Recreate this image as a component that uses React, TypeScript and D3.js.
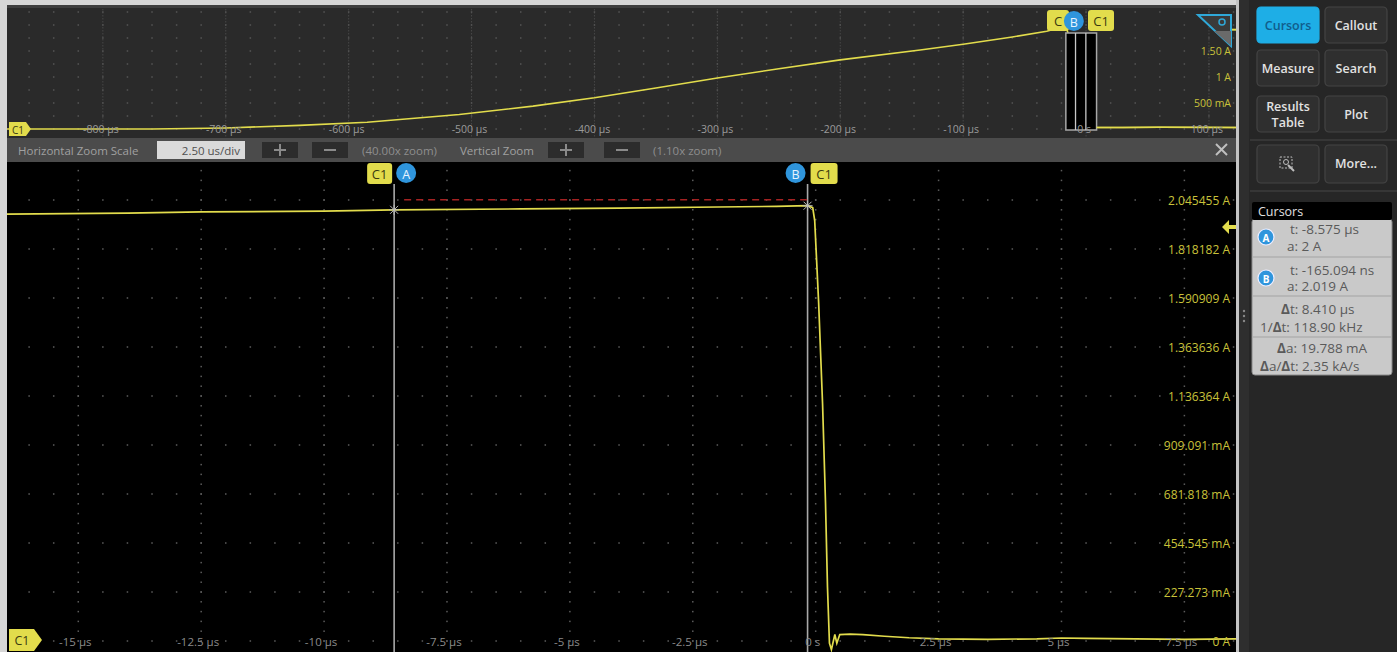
import React from "react";
import * as d3 from "d3";

const W = 1397;
const H = 652;
const FONT = "'Open Sans', 'Noto Sans', 'DejaVu Sans', sans-serif";

// ---------- main (zoomed) waveform ----------
const mainTimeUs = [-16.45, -14, -12.5, -10, -8.575, -6, -4, -2, -0.8, -0.165, -0.06, -0.02, 0.06, 0.14, 0.2, 0.24, 0.28, 0.32, 0.39, 0.43, 0.49, 0.7, 0.96, 1.4, 1.9, 2.5, 3.5, 4.5, 5.0, 5.5, 6.5, 7.5, 8.55];
const mainCurrentA = [1.98, 1.985, 1.99, 1.994, 2.0, 2.004, 2.008, 2.013, 2.016, 2.019, 2.01, 1.95, 1.57, 1.1, 0.64, 0.25, -0.01, -0.04, 0.03, -0.01, 0.03, 0.032, 0.03, 0.022, 0.015, 0.01, 0.008, 0.01, 0.014, 0.012, 0.01, 0.008, 0.01];

// ---------- overview waveform ----------
const overviewTimeUs = [-878, -760, -700, -640, -585, -510, -450, -400, -350, -300, -250, -200, -135, -100, -60, -32, -16.45, 8.55, 30, 60, 122];
const overviewCurrentA = [0.0, 0.0, 0.02, 0.07, 0.13, 0.28, 0.44, 0.6, 0.79, 0.98, 1.16, 1.33, 1.52, 1.63, 1.77, 1.88, 1.98, 0.03, 0.03, 0.035, 0.03];

// ---------- ticks ----------
const mainXTicksUs = [-15, -12.5, -10, -7.5, -5, -2.5, 0, 2.5, 5, 7.5];
const mainXTickLabels = ["-15 µs", "-12.5 µs", "-10 µs", "-7.5 µs", "-5 µs", "-2.5 µs", "0 s", "2.5 µs", "5 µs", "7.5 µs"];
const mainYDivA = 0.2272727;
const mainYTickDivs = [0, 1, 2, 3, 4, 5, 6, 7, 8, 9];
const mainYTickLabels = ["0 A", "227.273 mA", "454.545 mA", "681.818 mA", "909.091 mA", "1.136364 A", "1.363636 A", "1.590909 A", "1.818182 A", "2.045455 A"];

const ovXTicksUs = [-800, -700, -600, -500, -400, -300, -200, -100, 0, 100];
const ovXTickLabels = ["-800 µs", "-700 µs", "-600 µs", "-500 µs", "-400 µs", "-300 µs", "-200 µs", "-100 µs", "0 s", "100 µs"];
const ovYTicksA = [0.5, 1, 1.5];
const ovYTickLabels = ["500 mA", "1 A", "1.50 A"];

// ---------- cursors ----------
const cursorTimesUs = [-8.575, -0.165];
const cursorCurrentA = [2.0, 2.019];
const cursorNames = ["A", "B"];
const zoomWindowUs = [-16.45, 8.55];
const triggerLevelA = 1.92;

// ---------- side panel ----------
const buttonLabels = ["Cursors", "Callout", "Measure", "Search", "Results|Table", "Plot", "", "More..."];
const readoutA = ["t: -8.575 µs", "a: 2 A"];
const readoutB = ["t: -165.094 ns", "a: 2.019 A"];
const readoutDt = ["8.410 µs", "118.90 kHz"];
const readoutDa = ["19.788 mA", "2.35 kA/s"];

const YELLOW = "#e2dc4c";
const YLABEL = "#c9c23a";
const BLUE = "#2f95dc";

function CLabel({ x, y, w, text }: { x: number; y: number; w: number; text: string }) {
  return (
    <g>
      <rect x={x} y={y} width={w} height={21} rx={3} fill={YELLOW} />
      <text x={x + w / 2} y={y + 11} textAnchor="middle" dominantBaseline="central" fontSize={13} fill="#3a3a10" fontFamily={FONT}>{text}</text>
    </g>
  );
}

function CircleLabel({ cx, cy, text }: { cx: number; cy: number; text: string }) {
  return (
    <g>
      <circle cx={cx} cy={cy} r={10} fill={BLUE} />
      <text x={cx} y={cy + 1} textAnchor="middle" dominantBaseline="central" fontSize={12.5} fill="#e8f4ff" fontFamily={FONT}>{text}</text>
    </g>
  );
}

export default function App() {
  const xMain = d3.scaleLinear().domain([-16.45, 8.55]).range([7, 1236]);
  const yMain = d3.scaleLinear().domain([0, 9 * mainYDivA]).range([641, 200]);
  const xOv = d3.scaleLinear().domain([-878, 122]).range([7, 1236]);
  const yOv = d3.scaleLinear().domain([0, 1.5]).range([129, 51]);

  const mainLine = d3.line<number>().x((_, i) => xMain(mainTimeUs[i])).y((d) => yMain(d));
  const ovLine = d3.line<number>().x((_, i) => xOv(overviewTimeUs[i])).y((d) => yOv(d));
  const ovTailLine = d3.line<number>().x((_, i) => xOv(overviewTimeUs[17 + i])).y((d) => yOv(d));

  const mainTop = 162, mainBot = 650;
  const vMin = yMain.invert(mainBot), vMax = yMain.invert(mainTop);
  const vDots: number[] = d3.range(Math.ceil(vMin / (mainYDivA / 5)), Math.floor(vMax / (mainYDivA / 5)) + 1).map((k) => k * (mainYDivA / 5));
  const hDots: number[] = d3.range(-32, 18).map((k) => k * 0.5).filter((t) => xMain(t) > 8 && xMain(t) < 1235);

  const ovRows = d3.range(0, 10).map((k) => k * 0.25);
  const ovRowDots = d3.range(-43, 7).map((k) => k * 20).filter((t) => xOv(t) > 8 && xOv(t) < 1235);

  const xA = xMain(cursorTimesUs[0]);
  const xB = xMain(cursorTimesUs[1]);
  const zx0 = xOv(zoomWindowUs[0]);
  const zx1 = xOv(zoomWindowUs[1]);
  const yT = yMain(triggerLevelA);

  const btnPos = [
    [1257, 7], [1325, 7], [1257, 50], [1325, 50], [1257, 96], [1325, 96], [1257, 145], [1325, 145],
  ];

  return (
    <svg width={W} height={H} style={{ position: "fixed", left: 0, top: 0, display: "block" }} fontFamily={FONT}>
      <rect x={0} y={0} width={W} height={H} fill="#d6d6d6" />
      {/* ---------- overview panel ---------- */}
      <rect x={7} y={5} width={1229} height={133} fill="#2a2a2a" />
      <rect x={7} y={5} width={1229} height={3} fill="#3e3e3e" />
      {ovXTicksUs.map((t) => (
        <line key={"ovv" + t} x1={xOv(t)} x2={xOv(t)} y1={9} y2={137} stroke="#474747" strokeWidth={1} strokeDasharray="1.5,1.5" />
      ))}
      {ovRows.map((v) => (
        <g key={"ovr" + v}>
          {ovRowDots.map((t) => (
            <rect key={t} x={xOv(t) - 0.75} y={yOv(v) - 0.75} width={1.5} height={1.5} fill="#555" />
          ))}
        </g>
      ))}
      <path d={ovLine(overviewCurrentA) || ""} fill="none" stroke={YELLOW} strokeWidth={1.6} />
      <rect x={zx0} y={33} width={zx1 - zx0} height={97} fill="#000" stroke="#a8a8a8" strokeWidth={1.5} />
      {cursorTimesUs.map((t, i) => (
        <line key={"ovc" + i} x1={xOv(t)} x2={xOv(t)} y1={33} y2={130} stroke="#c8c8c8" strokeWidth={1.3} />
      ))}
      <path d={ovTailLine(overviewCurrentA.slice(17)) || ""} fill="none" stroke={YELLOW} strokeWidth={1.6} />
      {ovXTicksUs.map((t, i) => (
        <text key={"ovx" + t} x={xOv(t) - 2} y={129} textAnchor="middle" dominantBaseline="central" fontSize={10.5} fill="#9a9a9a">{ovXTickLabels[i]}</text>
      ))}
      {ovYTicksA.map((v, i) => (
        <text key={"ovy" + v} x={1231} y={yOv(v)} textAnchor="end" dominantBaseline="central" fontSize={10.5} fill={YLABEL}>{ovYTickLabels[i]}</text>
      ))}
      <path d="M9,122 L26,122 L31,129 L26,136 L9,136 Z" fill={YELLOW} />
      <text x={18} y={129.5} textAnchor="middle" dominantBaseline="central" fontSize={10} fill="#3a3a10">C1</text>
      <CLabel x={1047} y={10} w={22} text="C" />
      <CircleLabel cx={xOv(cursorTimesUs[1]) - 12} cy={21} text="B" />
      <CLabel x={1088} y={10} w={26} text="C1" />
      {/* trigger icon */}
      <polygon points="1198,15 1231,15 1231,46" fill="#3a3a3a" stroke="#2fa8d8" strokeWidth={2} />
      <polygon points="1214,31 1231,31 1231,46" fill="#6a6a6a" />
      <circle cx={1222} cy={22} r={3} fill="none" stroke="#2fa8d8" strokeWidth={1.5} />
      <line x1={1232} x2={1236} y1={yOv(1.91)} y2={yOv(1.91)} stroke={YELLOW} strokeWidth={2} />

      {/* ---------- zoom bar ---------- */}
      <rect x={7} y={138} width={1229} height={24} fill="#4b4b4b" />
      <text x={18} y={150} dominantBaseline="central" fontSize={11.5} fill="#a0a0a0">Horizontal Zoom Scale</text>
      <rect x={157} y={141} width={88} height={18} fill="#dadada" />
      <text x={240} y={150} textAnchor="end" dominantBaseline="central" fontSize={11.5} fill="#505050">2.50 us/div</text>
      {[262, 312, 548, 604].map((bx, i) => (
        <g key={"zb" + bx}>
          <rect x={bx} y={142} width={36} height={16} fill="#2c2c2c" />
          <line x1={bx + 12} x2={bx + 24} y1={150} y2={150} stroke="#8a8a8a" strokeWidth={2} />
          {i % 2 === 0 && <line x1={bx + 18} x2={bx + 18} y1={144} y2={156} stroke="#8a8a8a" strokeWidth={2} />}
        </g>
      ))}
      <text x={362} y={150} dominantBaseline="central" fontSize={11.5} fill="#8e8e8e">(40.00x zoom)</text>
      <text x={460} y={150} dominantBaseline="central" fontSize={11.5} fill="#a0a0a0">Vertical Zoom</text>
      <text x={653} y={150} dominantBaseline="central" fontSize={11.5} fill="#8e8e8e">(1.10x zoom)</text>
      <g stroke="#c0c0c0" strokeWidth={2}>
        <line x1={1216} x2={1227} y1={144} y2={155} />
        <line x1={1227} x2={1216} y1={144} y2={155} />
      </g>

      {/* ---------- main plot ---------- */}
      <rect x={7} y={mainTop} width={1229} height={mainBot - mainTop + 2} fill="#000" />
      {mainXTicksUs.map((t) => (
        <g key={"mv" + t}>
          {vDots.map((v) => (
            <rect key={v} x={xMain(t) - 0.75} y={yMain(v) - 0.75} width={1.5} height={1.5} fill="#5c5c5c" />
          ))}
        </g>
      ))}
      {mainYTickDivs.map((k) => (
        <g key={"mh" + k}>
          {hDots.map((t) => (
            <rect key={t} x={xMain(t) - 0.75} y={yMain(k * mainYDivA) - 0.75} width={1.5} height={1.5} fill="#5c5c5c" />
          ))}
        </g>
      ))}
      {[xA, xB].map((x, i) => (
        <line key={"cl" + i} x1={x} x2={x} y1={184} y2={mainBot + 2} stroke="#a9a9a9" strokeWidth={1.6} />
      ))}
      <line x1={xA + 10} x2={xB} y1={yMain(cursorCurrentA[1]) - 6} y2={yMain(cursorCurrentA[1]) - 6} stroke="#a42222" strokeWidth={1.6} strokeDasharray="7,5" />
      <path d={mainLine(mainCurrentA) || ""} fill="none" stroke={YELLOW} strokeWidth={1.7} />
      {cursorTimesUs.map((t, i) => {
        const cx = xMain(t), cy = yMain(cursorCurrentA[i]);
        return (
          <g key={"cx" + i} stroke="#bbbbbb" strokeWidth={1}>
            <line x1={cx - 5} x2={cx + 5} y1={cy} y2={cy} />
            <line x1={cx} x2={cx} y1={cy - 5} y2={cy + 5} />
            <line x1={cx - 4} x2={cx + 4} y1={cy - 4} y2={cy + 4} />
            <line x1={cx - 4} x2={cx + 4} y1={cy + 4} y2={cy - 4} />
          </g>
        );
      })}
      <CLabel x={xA - 27} y={163} w={25} text="C1" />
      <CircleLabel cx={xA + 12} cy={173} text={cursorNames[0]} />
      <CircleLabel cx={xB - 12} cy={173} text={cursorNames[1]} />
      <CLabel x={xB + 3} y={163} w={27} text="C1" />
      {mainXTicksUs.map((t, i) => (
        <text key={"mx" + t} x={xMain(t) - 3} y={641} textAnchor="middle" dominantBaseline="central" fontSize={11.5} fill="#8a8a8a">{mainXTickLabels[i]}</text>
      ))}
      {mainYTickDivs.map((k, i) => (
        <text key={"my" + k} x={1230} y={yMain(k * mainYDivA)} textAnchor="end" dominantBaseline="central" fontSize={12} fill={YLABEL}>{mainYTickLabels[i]}</text>
      ))}
      <path d={`M1222,${yT} L1229,${yT - 7} L1229,${yT - 2} L1236,${yT - 2} L1236,${yT + 2} L1229,${yT + 2} L1229,${yT + 7} Z`} fill={YELLOW} />
      <path d="M9,629 L34,629 L42,640 L34,651 L9,651 Z" fill={YELLOW} />
      <text x={22} y={640.5} textAnchor="middle" dominantBaseline="central" fontSize={12.5} fill="#3a3a10">C1</text>

      {/* ---------- separators ---------- */}
      <rect x={1236} y={0} width={3} height={H} fill="#c4c4c4" />

      {/* ---------- side panel ---------- */}
      <rect x={1239} y={0} width={W - 1239} height={H} fill="#262626" />
      <rect x={1239} y={0} width={10} height={H} fill="#2e2e2e" />
      {[311, 316, 321].map((y) => (
        <circle key={"g" + y} cx={1244} cy={y} r={1.2} fill="#888" />
      ))}
      {buttonLabels.map((lab, i) => {
        const [bx, by] = btnPos[i];
        const active = i === 0;
        const lines = lab.split("|");
        return (
          <g key={"b" + i}>
            <rect x={bx} y={by} width={62} height={i >= 6 ? 38 : 36} rx={4} fill={active ? "#1eaee6" : "#2f2f2f"} stroke={active ? "#1eaee6" : "#444"} strokeWidth={1.2} />
            {lines.map((l, j) => (
              <text key={j} x={bx + 31} y={by + 18 + (j - (lines.length - 1) / 2) * 16} textAnchor="middle" dominantBaseline="central" fontSize={12.5} fontWeight={600} fill={active ? "#115d8c" : "#e2e2e2"}>{l}</text>
            ))}
          </g>
        );
      })}
      <g stroke="#bdbdbd" strokeWidth={1} fill="none">
        <rect x={1280} y={157} width={12} height={11} strokeDasharray="2,1.5" />
        <circle cx={1286} cy={162} r={2.5} />
        <line x1={1288} x2={1294} y1={165} y2={171} strokeWidth={2} />
      </g>
      <line x1={1250} x2={1397} y1={140} y2={140} stroke="#3c3c3c" strokeWidth={1.5} />
      <line x1={1250} x2={1397} y1={191} y2={191} stroke="#3c3c3c" strokeWidth={1.5} />

      {/* cursor readout */}
      <rect x={1252} y={219} width={140} height={156} rx={3} fill="#c9c9c9" stroke="#8a8a8a" strokeWidth={1} />
      <rect x={1252} y={202} width={140} height={18} rx={2} fill="#000" />
      <text x={1258} y={211.5} dominantBaseline="central" fontSize={12.5} fill="#e0e0e0">Cursors</text>
      {[257, 296, 337].map((y) => (
        <line key={"sep" + y} x1={1253} x2={1391} y1={y} y2={y} stroke="#a3a3a3" strokeWidth={1.2} />
      ))}
      <circle cx={1266} cy={237} r={8} fill={BLUE} stroke="#eef" strokeWidth={1.2} />
      <text x={1266} y={237.5} textAnchor="middle" dominantBaseline="central" fontSize={10} fontWeight={700} fill="#fff">A</text>
      <circle cx={1266} cy={278} r={8} fill={BLUE} stroke="#eef" strokeWidth={1.2} />
      <text x={1266} y={278.5} textAnchor="middle" dominantBaseline="central" fontSize={10} fontWeight={700} fill="#fff">B</text>
      <g fontSize={13.5} fill="#5a5a5a">
        <text x={1290} y={229} dominantBaseline="central">{readoutA[0]}</text>
        <text x={1287} y={246} dominantBaseline="central">{readoutA[1]}</text>
        <text x={1290} y={270} dominantBaseline="central">{readoutB[0]}</text>
        <text x={1287} y={286} dominantBaseline="central">{readoutB[1]}</text>
        <text x={1281} y={309} dominantBaseline="central"><tspan fontWeight={700}>Δ</tspan>t: {readoutDt[0]}</text>
        <text x={1260} y={327} dominantBaseline="central">1/<tspan fontWeight={700}>Δ</tspan>t: {readoutDt[1]}</text>
        <text x={1277} y={348} dominantBaseline="central"><tspan fontWeight={700}>Δ</tspan>a: {readoutDa[0]}</text>
        <text x={1260} y={366} dominantBaseline="central"><tspan fontWeight={700}>Δ</tspan>a/<tspan fontWeight={700}>Δ</tspan>t: {readoutDa[1]}</text>
      </g>
    </svg>
  );
}
